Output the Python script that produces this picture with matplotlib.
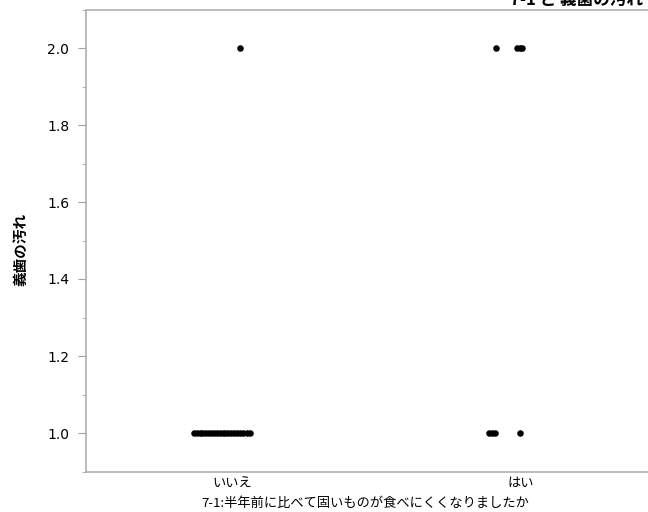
import matplotlib
matplotlib.use("Agg")
import matplotlib.pyplot as plt
from matplotlib.ticker import MultipleLocator

plt.rcParams['font.family'] = ['DejaVu Sans', 'Noto Sans CJK JP']

categories = ["いいえ", "はい"]
# jitter offsets (category units) of each point, per category and y value
iie_offsets_1 = [-0.135, -0.125, -0.115, -0.105, -0.095, -0.085, -0.075, -0.065,
                 -0.055, -0.045, -0.035, -0.025, -0.015, -0.005, 0.005, 0.015,
                 0.025, 0.035, 0.05, 0.06]
iie_offsets_2 = [0.024]
hai_offsets_1 = [-0.108, -0.098, -0.088, 0.0]
hai_offsets_2 = [-0.083, -0.012, -0.002, 0.007]

x_label = "7-1:半年前に比べて固いものが食べにくくなりましたか"
y_label = "義歯の汚れ"
title = "7-1 と 義歯の汚れ"

fig = plt.figure(figsize=(6.48, 5.12), dpi=100)
ax = fig.add_axes([86/648, 40.5/512, (667-86)/648, 462/512])

xs, ys = [], []
for offs, cat, yv in [(iie_offsets_1, 0, 1.0), (iie_offsets_2, 0, 2.0),
                      (hai_offsets_1, 1, 1.0), (hai_offsets_2, 1, 2.0)]:
    for o in offs:
        xs.append(cat + o)
        ys.append(yv)
ax.scatter(xs, ys, s=22, color="black", zorder=3, linewidths=0)

ax.set_xlim(-0.51, 1.51)
ax.set_ylim(0.9, 2.1)
ax.set_xticks([0, 1])
ax.set_xticklabels(categories, family=['Noto Sans CJK JP'], fontsize=9.5)
ax.tick_params(axis='x', length=0, pad=4)
ax.yaxis.set_major_locator(MultipleLocator(0.2))
ax.yaxis.set_minor_locator(MultipleLocator(0.1))
ax.yaxis.set_major_formatter(plt.FormatStrFormatter('%.1f'))
ax.tick_params(axis='y', which='major', length=6, color='#a0a0a0', labelsize=10, pad=6)
ax.tick_params(axis='y', which='minor', length=3, color='#a0a0a0')

for s in ['left', 'bottom', 'top', 'right']:
    ax.spines[s].set_color('#b0b0b0')
    ax.spines[s].set_linewidth(1.2)

ax.set_xlabel(x_label, family=['Noto Sans CJK JP'], fontsize=9.5, labelpad=2)
ax.xaxis.set_label_coords((365-86)/(667-86), -0.055)
ax.set_ylabel(y_label, family=['Noto Sans CJK JP'], fontsize=10.5, fontweight='bold')
ax.yaxis.set_label_coords(-0.1, 0.48)

fig.text(643/648, 1.0, title, family=['Noto Sans CJK JP'], fontsize=12,
         fontweight='bold', ha='right', va='center')

fig.savefig("out.png", dpi=100)
